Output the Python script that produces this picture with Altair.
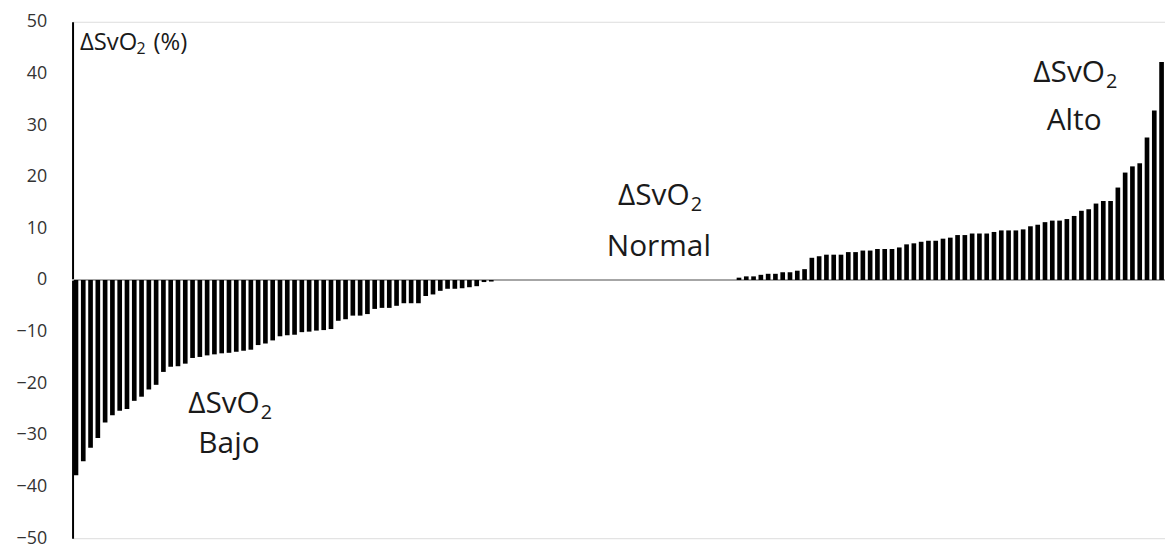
import altair as alt
import pandas as pd

neg_values = [-37.8, -35.1, -32.5, -30.6, -27.6, -26.2, -25.3, -25.0, -23.4, -22.6,
              -21.2, -20.3, -17.8, -16.8, -16.7, -16.2, -15.1, -14.9, -14.6, -14.4,
              -14.2, -14.1, -13.9, -13.7, -13.5, -12.6, -12.3, -11.7, -10.9, -10.7,
              -10.6, -10.1, -10.0, -9.8, -9.7, -9.5, -7.9, -7.6, -6.9, -6.9,
              -6.6, -5.6, -5.4, -5.4, -5.0, -4.5, -4.5, -4.5, -3.1, -2.8,
              -2.1, -1.7, -1.7, -1.6, -1.4, -1.2, -0.4, -0.3]
zero_values = [0, 0, 0, 0, 0, 0, 0, 0, 0, 0, 0,
               0, 0, 0, 0, 0, 0, 0, 0, 0, 0, 0,
               0, 0, 0, 0, 0, 0, 0, 0, 0, 0, 0]
pos_values = [0.45, 0.7, 0.7, 1.0, 1.2, 1.2, 1.5, 1.5, 1.8, 2.1,
              4.3, 4.6, 4.9, 4.9, 4.9, 5.4, 5.4, 5.7, 5.7,
              6.0, 6.0, 6.0, 6.3, 6.9, 7.1, 7.4, 7.6, 7.6, 8.0, 8.2,
              8.7, 8.7, 9.0, 9.0, 9.0, 9.3, 9.6, 9.6, 9.6,
              9.8, 10.4, 10.7, 11.2, 11.5, 11.5, 11.8, 12.4, 13.4, 13.7,
              14.8, 15.3, 15.3, 17.9, 20.8, 22.0, 22.6, 27.6, 32.8, 42.2]

y_ticks = [50, 40, 30, 20, 10, 0, -10, -20, -30, -40, -50]

# group annotations: heading "ΔSvO" + subscript "2", then the group name below
head_index = [21, 80, 137]
head_value = [-24.0, 16.3, 40.0]
name_value = [-31.8, 6.4, 30.8]
name_text = ["Bajo", "Normal", "Alto"]

title_index = [0]
title_value = [45.8]

values = neg_values + zero_values + pos_values
df = pd.DataFrame({"i": list(range(len(values))), "v": values})
heads = pd.DataFrame({"i": head_index, "v": head_value, "t": ["ΔSvO"] * 3, "s": ["2"] * 3})
names = pd.DataFrame({"i": head_index, "v": name_value, "t": name_text})
ttl = pd.DataFrame({"i": title_index, "v": title_value, "a": ["ΔSvO"], "s": ["2"], "p": ["(%)"]})

font = "Open Sans"
tc = "#1a1a1a"
xscale = alt.Scale(domain=list(range(len(values))), paddingInner=0.36, paddingOuter=0.15)
yscale = alt.Scale(domain=[-50, 50], nice=False)


def X():
    return alt.X("i:O", scale=xscale, axis=None)


def Y():
    return alt.Y("v:Q", scale=yscale)


y_main = alt.Y("v:Q", scale=yscale,
               axis=alt.Axis(values=y_ticks, title=None, grid=False, ticks=False,
                             domainColor="black", domainWidth=2, labelPadding=26,
                             labelFontSize=18, labelColor="#333333", labelFont=font))

zero_line = alt.Chart(df).mark_rule(color="#a6a6a6", strokeWidth=2).encode(
    x=alt.value(0), x2=alt.value(1100), y=alt.datum(0, scale=yscale))

bars = alt.Chart(df).mark_bar(color="black").encode(x=X(), y=y_main)

head_main = alt.Chart(heads).mark_text(font=font, fontSize=30, color=tc, align="right",
                                       baseline="middle", dx=31).encode(x=X(), y=Y(), text="t:N")
head_sub = alt.Chart(heads).mark_text(font=font, fontSize=20, color=tc, align="left",
                                      baseline="middle", dx=32, dy=9).encode(x=X(), y=Y(), text="s:N")
name_txt = alt.Chart(names).mark_text(font=font, fontSize=30, color=tc, align="center",
                                      baseline="middle").encode(x=X(), y=Y(), text="t:N")

t_main = alt.Chart(ttl).mark_text(font=font, fontSize=24, color=tc, align="left",
                                  baseline="middle", dx=4).encode(x=X(), y=Y(), text="a:N")
t_sub = alt.Chart(ttl).mark_text(font=font, fontSize=16, color=tc, align="left",
                                 baseline="middle", dx=61, dy=6).encode(x=X(), y=Y(), text="s:N")
t_pct = alt.Chart(ttl).mark_text(font=font, fontSize=24, color=tc, align="left",
                                 baseline="middle", dx=78).encode(x=X(), y=Y(), text="p:N")

chart = alt.layer(zero_line, bars, head_main, head_sub, name_txt, t_main, t_sub, t_pct).properties(
    width=1100, height=520,
    padding={"left": 65, "top": 12, "right": 0, "bottom": 9},
    autosize=alt.AutoSizeParams(type="none"),
).configure_view(stroke=None).configure(background="white")

chart.save("out.html", embed_options={"renderer": "svg", "actions": False})
